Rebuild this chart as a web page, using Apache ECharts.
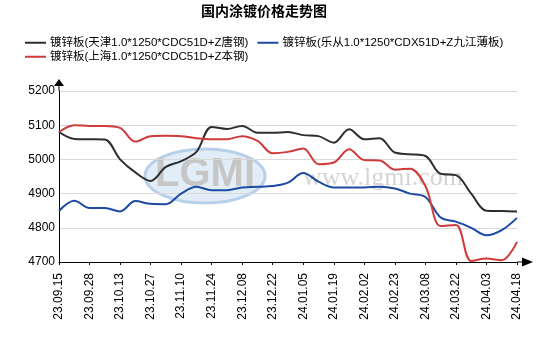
<!DOCTYPE html>
<html>
<head>
<meta charset="utf-8">
<script src="https://cdn.jsdelivr.net/npm/echarts@6/dist/echarts.min.js"></script>
<style>html,body{margin:0;padding:0;background:#fff}#c{width:543px;height:340px}</style>
</head>
<body>
<div id="c"></div>
<script>
var title = '国内涂镀价格走势图';
var categories = ['23.09.15','23.09.21','23.09.28','23.10.09','23.10.13','23.10.20','23.10.27','23.11.03','23.11.10','23.11.17','23.11.24','23.12.01','23.12.08','23.12.15','23.12.22','23.12.29','24.01.05','24.01.12','24.01.19','24.01.26','24.02.02','24.02.08','24.02.23','24.03.01','24.03.08','24.03.15','24.03.22','24.03.28','24.04.03','24.04.11','24.04.18'];
var nameTianjin = '镀锌板(天津1.0*1250*CDC51D+Z唐钢)';
var nameLecong = '镀锌板(乐从1.0*1250*CDX51D+Z九江薄板)';
var nameShanghai = '镀锌板(上海1.0*1250*CDC51D+Z本钢)';
var tianjin = [5080,5060,5059,5058,5000,4962,4937,4978,4995,5022,5095,5089,5098,5078,5078,5080,5071,5068,5049,5088,5059,5062,5020,5015,5010,4958,4954,4900,4850,4849,4848];
var lecong = [4849,4879,4858,4858,4848,4878,4870,4869,4900,4920,4910,4910,4918,4920,4922,4932,4960,4935,4918,4918,4918,4920,4915,4900,4890,4830,4818,4800,4778,4793,4829];
var shanghai = [5080,5100,5098,5098,5092,5052,5068,5069,5068,5062,5059,5059,5068,5054,5018,5022,5032,4986,4991,5030,4998,4997,4970,4973,4922,4805,4808,4703,4710,4705,4759];
var yTicks = {min: 4700, max: 5200, interval: 100};

var chart = echarts.init(document.getElementById('c'), null, {renderer: 'canvas'});
var font = '"Liberation Sans", Arial, "Noto Sans CJK SC", sans-serif';
function mk(name, data, color) {
  return {name: name, type: 'line', data: data, smooth: 0.35, showSymbol: false,
    lineStyle: {width: 2, color: color}, itemStyle: {color: color}, z: 3};
}
chart.setOption({
  animation: false,
  textStyle: {fontFamily: font},
  title: {text: title, left: 201, top: 5, padding: 0,
    textStyle: {fontSize: 14, fontWeight: 'bold', color: '#000', fontFamily: font}},
  legend: [
    {data: [nameTianjin, nameLecong], left: 25, top: 37, padding: 0, icon: 'rect', itemWidth: 21, itemHeight: 2, itemGap: 9,
      textStyle: {fontSize: 11.5, color: '#000', fontFamily: font, padding: [0, 0, 0, -1]}},
    {data: [nameShanghai], left: 25, top: 51, padding: 0, icon: 'rect', itemWidth: 21, itemHeight: 2,
      textStyle: {fontSize: 11.5, color: '#000', fontFamily: font, padding: [0, 0, 0, -1]}}
  ],
  graphic: [
    {type: 'ellipse', shape: {cx: 205, cy: 176, rx: 60, ry: 27}, z: 0,
      style: {fill: '#e3edf8', stroke: '#b9d0ea', lineWidth: 3}},
    {type: 'text', x: 205, y: 175, z: 0,
      style: {text: 'LGMI', fill: '#c6c6c6', font: 'bold 40px "Liberation Sans", Arial', align: 'center', verticalAlign: 'middle'}},
    {type: 'text', x: 383, y: 178, z: 0,
      style: {text: 'www.lgmi.com', fill: '#d4d4d4', font: '26px "Liberation Serif", serif', align: 'center', verticalAlign: 'middle'}}
  ],
  grid: {left: 59, right: 26, top: 91, bottom: 78},
  xAxis: {
    type: 'category', data: categories, boundaryGap: false,
    axisLine: {lineStyle: {color: '#000', width: 1},
      symbol: ['none', 'path://M4.5,0 L9,11 L5,11 L5,16 L4,16 L4,11 L0,11 Z'], symbolSize: [9, 16], symbolOffset: [0, 8]},
    axisTick: {interval: 1, length: 3, lineStyle: {color: '#000'}},
    axisLabel: {interval: 1, rotate: 90, fontSize: 12, color: '#000', margin: 11, fontFamily: font},
    splitLine: {show: false}
  },
  yAxis: {
    type: 'value', min: yTicks.min, max: yTicks.max, interval: yTicks.interval,
    axisLine: {show: true, lineStyle: {color: '#000', width: 1},
      symbol: ['none', 'path://M5,0 L10,7 L5.5,7 L5.5,12 L4.5,12 L4.5,7 L0,7 Z'], symbolSize: [10, 12], symbolOffset: [0, 6]},
    axisTick: {show: false},
    axisLabel: {fontSize: 12, color: '#000', margin: 4, fontFamily: font,
      formatter: function (v) { return String(v); }},
    splitLine: {lineStyle: {color: '#d9d9d9', width: 1}}
  },
  series: [
    mk(nameTianjin, tianjin, '#2e2e2e'),
    mk(nameLecong, lecong, '#1c4aa3'),
    mk(nameShanghai, shanghai, '#cf3a3a')
  ]
});
</script>
</body>
</html>
